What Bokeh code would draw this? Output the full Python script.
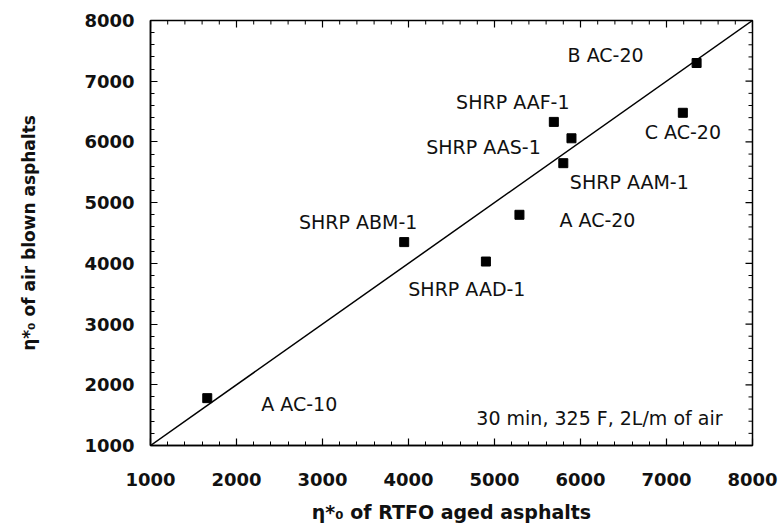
import math

from bokeh.plotting import figure
from bokeh.models import ColumnDataSource, LabelSet, Label, Range1d, SingleIntervalTicker
from bokeh.core.properties import value
from bokeh.embed import file_html
from bokeh.resources import INLINE

# Zero-shear viscosity: RTFO-aged vs air-blown asphalts
asphalts = ["A AC-10", "SHRP ABM-1", "SHRP AAD-1", "A AC-20", "SHRP AAM-1",
            "SHRP AAS-1", "SHRP AAF-1", "C AC-20", "B AC-20"]
rtfo_visc = [1660, 3950, 4900, 5290, 5800, 5895, 5690, 7190, 7350]
air_blown_visc = [1780, 4350, 4030, 4800, 5650, 6060, 6330, 6480, 7300]

# line of equality
equality_x = [1000, 8000]
equality_y = [1000, 8000]

# axis ticks (shared by both axes)
major_ticks = [1000, 2000, 3000, 4000, 5000, 6000, 7000, 8000]
minor_ticks = [t + k * 200 for t in major_ticks[:-1] for k in range(1, 5)]

# label placement (screen pixels relative to each point, up positive)
label_dx = [92, -46, -19, 78, 66, -88, -41, 0, -91]
label_dy = [-6, 20, -27, -5, -19, -9, 20, -19, 8]

note_text = "30 min, 325 F, 2L/m of air"

FONT = "DejaVu Sans"
INK = "#111111"

src = ColumnDataSource(dict(x=rtfo_visc, y=air_blown_visc, name=asphalts,
                            dx=label_dx, dy=label_dy))

p = figure(width=780, height=525, output_backend="svg", toolbar_location=None,
           x_range=Range1d(1000, 8000), y_range=Range1d(1000, 8000),
           min_border_left=150, min_border_right=28, min_border_top=20,
           min_border_bottom=80, background_fill_color="white",
           border_fill_color="white")
p.grid.visible = False
p.outline_line_color = "black"
p.outline_line_width = 1.5

p.line(equality_x, equality_y, line_color="black", line_width=1.5)
p.scatter("x", "y", source=src, marker="square", size=9,
          fill_color="black", line_color="black")

labels = LabelSet(x="x", y="y", text="name", source=src, x_offset="dx",
                  y_offset="dy", text_align="center", text_baseline="middle",
                  text_font=value(FONT), text_font_size=value("19px"),
                  text_color=INK)
p.add_layout(labels)

p.add_layout(Label(x=6220, y=1450, text=note_text, text_align="center",
                   text_baseline="middle", text_font=FONT,
                   text_font_size="19px", text_color=INK))

# bottom and left axes
for ax in (p.xaxis[0], p.yaxis[0]):
    ax.ticker = SingleIntervalTicker(interval=1000, num_minor_ticks=5)
    ax.axis_line_color = "black"
    ax.axis_line_width = 1.5
    ax.major_tick_line_color = "black"
    ax.minor_tick_line_color = "black"
    ax.major_tick_line_width = 1.2
    ax.minor_tick_line_width = 1.0
    ax.major_tick_in = 7
    ax.major_tick_out = 0
    ax.minor_tick_in = 4
    ax.minor_tick_out = 0
    ax.major_label_text_font = FONT
    ax.major_label_text_font_style = "bold"
    ax.major_label_text_font_size = "18px"
    ax.major_label_text_color = INK
    ax.axis_label_text_font = FONT
    ax.axis_label_text_font_style = "bold"
    ax.axis_label_text_color = INK

xa = p.xaxis[0]
ya = p.yaxis[0]
xa.major_label_standoff = 27
ya.major_label_standoff = 16
xa.axis_label = "η*₀ of RTFO aged asphalts"
ya.axis_label = "η*₀ of air blown asphalts"
xa.axis_label_text_font_size = "19px"
ya.axis_label_text_font_size = "17px"
xa.axis_label_standoff = 12
ya.axis_label_standoff = 42

# inward tick marks mirrored on the top and right edges of the frame
n_maj, n_min = len(major_ticks), len(minor_ticks)
p.ray(x=major_ticks, y=[8000] * n_maj, length=7, length_units="screen",
      angle=-math.pi / 2, line_color="black", line_width=1.2)
p.ray(x=minor_ticks, y=[8000] * n_min, length=4, length_units="screen",
      angle=-math.pi / 2, line_color="black", line_width=1.0)
p.ray(x=[8000] * n_maj, y=major_ticks, length=7, length_units="screen",
      angle=math.pi, line_color="black", line_width=1.2)
p.ray(x=[8000] * n_min, y=minor_ticks, length=4, length_units="screen",
      angle=math.pi, line_color="black", line_width=1.0)

open("out.html", "w").write(file_html(p, INLINE))
